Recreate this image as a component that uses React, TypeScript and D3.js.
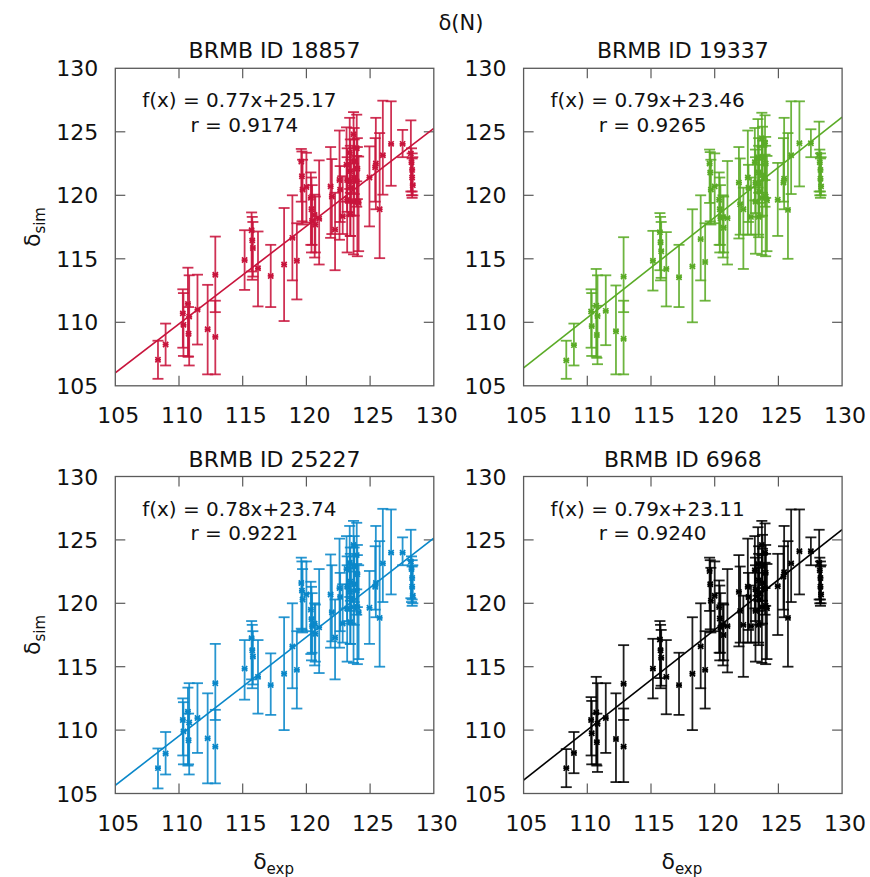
import React from 'react';
import * as d3 from 'd3';

type P = [number, number, number, number]; // [exp, sim, simLow, simHigh]

const xTicks = [105, 110, 115, 120, 125, 130];
const yTicks = [105, 110, 115, 120, 125, 130];
const titles = ['BRMB ID 18857', 'BRMB ID 19337', 'BRMB ID 25227', 'BRMB ID 6968'];
const fitSlope = [0.77, 0.79, 0.78, 0.79];
const fitIntercept = [25.17, 23.46, 23.74, 23.11];
const fitR = ['0.9174', '0.9265', '0.9221', '0.9240'];
const colors = ['#c8143c', '#5aab26', '#0a87c9', '#000000'];

const data18857: P[] = [
  [108.35, 107.05, 105.55, 108.55], [108.95, 108.25, 106.6, 109.9], [110.3, 110.7, 108.0, 112.6],
  [110.35, 109.8, 107.35, 112.3], [110.7, 111.45, 107.3, 114.3], [110.8, 110.45, 106.6, 113.7],
  [110.75, 109.1, 107.3, 111.2], [111.45, 111.0, 108.25, 113.75], [112.25, 109.45, 105.9, 112.95],
  [112.85, 113.75, 110.8, 116.75], [112.85, 108.85, 105.9, 111.7], [115.15, 114.9, 112.55, 117.25],
  [115.7, 117.25, 114.0, 118.65], [115.75, 116.45, 113.35, 118.3], [115.8, 115.85, 113.6, 117.9],
  [116.2, 114.25, 111.25, 117.15], [117.2, 113.65, 111.2, 116.1], [118.25, 114.55, 110.1, 119.0],
  [118.9, 116.65, 113.3, 120.0], [119.25, 114.85, 111.8, 117.8], [119.6, 122.65, 119.5, 123.65],
  [119.65, 121.5, 117.95, 123.45], [119.7, 120.45, 117.7, 122.8], [120.0, 120.65, 117.85, 123.35],
  [120.35, 119.8, 116.1, 121.8], [120.4, 118.9, 115.5, 121.4], [120.45, 118.0, 116.1, 120.8],
  [120.65, 118.45, 115.1, 120.05], [120.7, 117.7, 115.5, 119.9], [121.0, 118.15, 114.55, 122.75],
  [121.9, 120.7, 116.65, 123.8], [122.0, 119.9, 116.95, 122.85], [122.25, 117.3, 114.1, 120.2],
  [122.6, 121.2, 116.5, 125.1], [122.65, 120.45, 117.9, 122.3], [122.85, 118.35, 116.95, 121.5],
  [123.15, 122.4, 119.5, 125.35], [123.2, 121.2, 118.7, 123.7], [123.2, 119.65, 115.5, 123.0],
  [123.4, 123.35, 120.5, 126.1], [123.45, 121.9, 119.4, 124.4], [123.45, 121.1, 116.8, 123.9],
  [123.5, 120.6, 118.4, 122.8], [123.45, 118.5, 116.8, 120.2], [123.7, 124.8, 122.5, 126.55],
  [123.75, 122.7, 120.1, 125.3], [123.75, 121.4, 118.4, 124.4], [123.7, 119.5, 115.35, 123.7],
  [123.95, 123.7, 121.1, 126.35], [124.0, 122.1, 119.7, 124.5], [123.95, 121.1, 119.1, 123.1],
  [124.0, 119.5, 115.2, 123.8], [124.1, 119.4, 115.6, 123.05], [124.95, 121.4, 117.55, 123.85],
  [125.45, 122.5, 118.9, 126.1], [125.4, 122.2, 119.5, 124.5], [125.75, 118.9, 115.05, 124.9],
  [126.0, 123.15, 120.05, 127.45], [126.65, 124.05, 120.75, 127.4], [127.55, 124.05, 123.0, 125.15],
  [128.2, 123.3, 120.3, 125.9], [128.25, 122.6, 120.0, 123.7], [128.3, 122.0, 119.8, 123.3],
  [128.3, 121.4, 120.3, 122.9], [128.35, 120.8, 120.0, 123.0],
];

const data19337: P[] = [
  [108.35, 107.0, 105.55, 108.55], [108.95, 108.2, 106.6, 109.9], [110.3, 110.85, 108.0, 112.6],
  [110.35, 109.7, 107.35, 112.3], [110.7, 111.3, 107.3, 114.2], [110.8, 110.5, 106.7, 113.7],
  [110.75, 109.0, 107.2, 111.3], [111.45, 110.9, 108.2, 113.7], [112.25, 109.3, 105.9, 112.9],
  [112.85, 113.6, 110.8, 116.7], [112.85, 108.7, 105.9, 111.7], [115.15, 114.85, 112.5, 117.2],
  [115.7, 117.1, 114.1, 118.6], [115.75, 116.3, 113.3, 118.3], [115.8, 115.6, 113.5, 117.9],
  [116.2, 114.2, 111.25, 117.1], [117.2, 113.55, 111.2, 116.1], [118.25, 114.4, 110.0, 118.9],
  [118.9, 116.55, 113.3, 120.0], [119.25, 114.75, 111.7, 117.8], [119.6, 122.5, 119.4, 123.6],
  [119.65, 121.8, 117.95, 123.4], [119.7, 120.45, 117.7, 122.8], [120.0, 120.7, 117.8, 123.3],
  [120.35, 119.65, 116.1, 121.8], [120.4, 118.9, 115.5, 121.4], [120.45, 118.2, 116.1, 120.8],
  [120.65, 118.3, 115.1, 120.0], [120.7, 117.45, 115.5, 119.9], [121.0, 118.2, 114.55, 122.7],
  [121.9, 121.0, 116.6, 123.8], [122.0, 119.3, 116.9, 122.9], [122.25, 118.9, 114.2, 120.6],
  [122.6, 121.4, 116.9, 125.1], [122.65, 120.6, 117.9, 122.4], [122.85, 118.3, 116.9, 121.4],
  [123.15, 122.6, 119.6, 125.3], [123.2, 121.0, 118.6, 123.6], [123.2, 119.5, 115.4, 123.0],
  [123.4, 123.0, 120.6, 126.0], [123.45, 121.8, 119.4, 124.5], [123.45, 120.9, 116.9, 123.9],
  [123.5, 120.3, 118.3, 122.8], [123.45, 118.3, 116.7, 120.2], [123.7, 124.5, 122.4, 126.5],
  [123.75, 123.0, 120.2, 125.4], [123.75, 121.6, 118.4, 124.3], [123.7, 119.8, 115.3, 123.8],
  [123.95, 124.1, 121.2, 126.3], [124.0, 122.5, 119.8, 124.6], [123.95, 121.3, 119.1, 123.2],
  [124.0, 119.9, 115.2, 123.9], [124.1, 119.6, 115.6, 123.1], [124.95, 119.65, 116.8, 122.55],
  [125.45, 121.3, 118.9, 126.1], [125.4, 121.0, 119.5, 124.5], [125.75, 118.85, 115.0, 124.9],
  [126.0, 123.15, 120.1, 127.4], [126.65, 124.1, 120.7, 127.4], [127.55, 124.1, 123.0, 125.2],
  [128.2, 123.2, 120.3, 125.8], [128.25, 122.6, 120.0, 123.6], [128.3, 122.0, 119.8, 123.3],
  [128.3, 121.3, 120.3, 122.9], [128.35, 120.7, 120.0, 123.0],
];

const data25227: P[] = [
  [108.35, 107.0, 105.4, 108.55], [108.95, 108.15, 106.5, 109.85], [110.3, 110.8, 108.0, 112.5],
  [110.35, 109.9, 107.3, 112.2], [110.7, 111.45, 107.2, 113.35], [110.8, 110.6, 106.5, 113.7],
  [110.75, 109.2, 107.3, 111.3], [111.45, 110.95, 108.2, 113.7], [112.25, 109.35, 105.8, 112.9],
  [112.85, 113.7, 110.8, 116.8], [112.85, 108.7, 105.8, 111.6], [115.15, 114.85, 112.4, 117.1],
  [115.7, 117.25, 114.0, 118.6], [115.75, 116.3, 113.3, 118.3], [115.8, 115.8, 113.6, 117.8],
  [116.2, 114.2, 111.3, 117.1], [117.2, 113.55, 111.2, 116.05], [118.25, 114.45, 110.0, 118.9],
  [118.9, 116.6, 113.3, 120.0], [119.25, 114.75, 111.7, 117.8], [119.6, 121.6, 118.0, 123.6],
  [119.65, 121.0, 117.9, 123.3], [119.7, 120.3, 117.7, 122.7], [120.0, 120.7, 117.8, 123.3],
  [120.35, 119.5, 116.0, 121.7], [120.4, 118.75, 115.5, 121.3], [120.45, 118.2, 116.1, 120.8],
  [120.65, 118.4, 115.1, 120.0], [120.7, 117.6, 115.4, 119.9], [121.0, 118.1, 114.5, 122.7],
  [121.9, 120.7, 116.5, 123.85], [122.0, 119.3, 117.0, 123.0], [122.25, 117.3, 114.0, 120.3],
  [122.6, 121.2, 116.5, 125.1], [122.65, 120.5, 117.8, 122.4], [122.85, 118.4, 116.9, 121.5],
  [123.15, 122.7, 119.6, 125.3], [123.2, 121.3, 118.6, 123.7], [123.2, 119.6, 115.4, 123.0],
  [123.4, 123.2, 120.5, 126.1], [123.45, 121.7, 119.4, 124.4], [123.45, 120.9, 116.8, 123.9],
  [123.5, 120.4, 118.4, 122.8], [123.45, 118.5, 116.8, 120.2], [123.7, 124.6, 122.5, 126.5],
  [123.75, 122.9, 120.1, 125.3], [123.75, 121.5, 118.3, 124.4], [123.7, 119.7, 115.3, 123.7],
  [123.95, 123.8, 121.1, 126.35], [124.0, 122.3, 119.7, 124.6], [123.95, 121.0, 119.1, 123.1],
  [124.0, 119.7, 115.2, 123.8], [124.1, 119.3, 115.6, 123.0], [124.95, 119.65, 116.8, 122.55],
  [125.45, 121.6, 118.9, 126.1], [125.4, 121.3, 119.5, 124.5], [125.75, 118.85, 115.0, 124.9],
  [126.0, 123.15, 120.1, 127.45], [126.65, 124.0, 120.7, 127.4], [127.55, 124.0, 123.0, 125.2],
  [128.2, 123.3, 120.4, 125.8], [128.25, 122.7, 120.1, 123.7], [128.3, 122.0, 119.8, 123.4],
  [128.3, 121.3, 120.3, 122.9], [128.35, 120.6, 120.0, 123.0],
];

const data6968: P[] = [
  [108.35, 107.0, 105.5, 108.5], [108.95, 108.2, 106.6, 109.85], [110.3, 110.8, 108.0, 112.6],
  [110.35, 109.75, 107.3, 112.3], [110.7, 111.4, 107.3, 114.2], [110.8, 110.5, 106.7, 113.7],
  [110.75, 109.05, 107.2, 111.3], [111.45, 110.95, 108.2, 113.7], [112.25, 109.3, 105.9, 112.9],
  [112.85, 113.65, 110.8, 116.7], [112.85, 108.7, 105.9, 111.7], [115.15, 114.85, 112.5, 117.2],
  [115.7, 117.15, 114.1, 118.6], [115.75, 116.3, 113.3, 118.3], [115.8, 115.7, 113.5, 117.9],
  [116.2, 114.2, 111.25, 117.1], [117.2, 113.55, 111.2, 116.1], [118.25, 114.45, 110.0, 118.9],
  [118.9, 116.6, 113.3, 120.0], [119.25, 114.75, 111.7, 117.8], [119.6, 122.55, 119.4, 123.6],
  [119.65, 121.5, 117.95, 123.4], [119.7, 120.2, 117.7, 122.8], [120.0, 120.6, 117.8, 123.3],
  [120.35, 119.7, 116.1, 121.8], [120.4, 118.8, 115.5, 121.4], [120.45, 118.1, 116.1, 120.8],
  [120.65, 118.3, 115.1, 120.0], [120.7, 117.5, 115.5, 119.9], [121.0, 118.2, 114.55, 122.7],
  [121.9, 120.9, 116.6, 123.8], [122.0, 119.4, 116.9, 122.9], [122.25, 118.3, 114.2, 120.6],
  [122.6, 121.3, 116.9, 125.1], [122.65, 120.5, 117.9, 122.4], [122.85, 118.2, 116.9, 121.4],
  [123.15, 122.6, 119.6, 125.3], [123.2, 121.1, 118.6, 123.6], [123.2, 119.4, 115.4, 123.0],
  [123.4, 123.1, 120.6, 126.0], [123.45, 121.8, 119.4, 124.5], [123.45, 120.8, 116.9, 123.9],
  [123.5, 120.3, 118.3, 122.8], [123.45, 118.3, 116.7, 120.2], [123.7, 124.6, 122.4, 126.5],
  [123.75, 123.0, 120.2, 125.4], [123.75, 121.6, 118.4, 124.3], [123.7, 119.7, 115.3, 123.8],
  [123.95, 124.0, 121.2, 126.3], [124.0, 122.4, 119.8, 124.6], [123.95, 121.2, 119.1, 123.2],
  [124.0, 119.8, 115.2, 123.9], [124.1, 119.6, 115.6, 123.1], [124.95, 121.35, 117.5, 123.9],
  [125.45, 122.45, 118.9, 126.1], [125.4, 122.1, 119.5, 124.5], [125.75, 118.85, 115.0, 124.9],
  [126.0, 123.15, 120.1, 127.4], [126.65, 124.1, 120.7, 127.4], [127.55, 124.1, 123.0, 125.2],
  [128.2, 123.2, 120.3, 125.8], [128.25, 122.6, 120.0, 123.6], [128.3, 122.0, 119.8, 123.3],
  [128.3, 121.3, 120.3, 122.9], [128.35, 120.7, 120.0, 123.0],
];

const panelData = [data18857, data19337, data25227, data6968];

const W = 870;
const H = 877;
const FONT = 'DejaVu Sans, sans-serif';
const frames = [
  { left: 115.3, top: 68.3, width: 318.5, height: 317.5 },
  { left: 523.6, top: 68.3, width: 318.5, height: 317.5 },
  { left: 115.3, top: 476.5, width: 318.5, height: 317.0 },
  { left: 523.6, top: 476.5, width: 318.5, height: 317.0 },
];

function Panel({ idx }: { idx: number }) {
  const f = frames[idx];
  const color = colors[idx];
  const data = panelData[idx];
  const x = d3.scaleLinear().domain([105, 130]).range([f.left, f.left + f.width]);
  const y = d3.scaleLinear().domain([105, 130]).range([f.top + f.height, f.top]);
  const line = d3.line<number>().x((v) => x(v)).y((v) => y(fitSlope[idx] * v + fitIntercept[idx]));
  const clipId = `clip${idx}`;
  const bottomRow = idx >= 2;
  const leftCol = idx % 2 === 0;
  const axisColor = '#5a5a5a';
  const tickLen = 10;
  return (
    <g>
      <defs>
        <clipPath id={clipId}>
          <rect x={f.left} y={f.top} width={f.width} height={f.height} />
        </clipPath>
      </defs>
      {xTicks.slice(1, -1).map((t) => (
        <g key={'xt' + t} stroke={axisColor} strokeWidth={1.2}>
          <line x1={x(t)} x2={x(t)} y1={f.top + f.height} y2={f.top + f.height - tickLen} />
          <line x1={x(t)} x2={x(t)} y1={f.top} y2={f.top + tickLen} />
        </g>
      ))}
      {yTicks.slice(1, -1).map((t) => (
        <g key={'yt' + t} stroke={axisColor} strokeWidth={1.2}>
          <line x1={f.left} x2={f.left + tickLen} y1={y(t)} y2={y(t)} />
          <line x1={f.left + f.width} x2={f.left + f.width - tickLen} y1={y(t)} y2={y(t)} />
        </g>
      ))}
      {xTicks.map((t) => (
        <text key={'xl' + t} x={x(t) + 3} y={f.top + f.height + 37} textAnchor="middle"
          fontSize={22} fontFamily={FONT} fill="#111">{t}</text>
      ))}
      {yTicks.map((t) => (
        <text key={'yl' + t} x={f.left - 17} y={y(t) + 8} textAnchor="end"
          fontSize={22} fontFamily={FONT} fill="#111">{t}</text>
      ))}
      <path d={line([105, 130]) || ''} stroke={color} strokeWidth={1.6} fill="none" clipPath={`url(#${clipId})`} />
      <g stroke={color} strokeWidth={1.8} strokeOpacity={0.88} fill="none">
        {data.map((d, i) => {
          const cx = x(d[0]);
          return (
            <g key={i}>
              <line x1={cx} x2={cx} y1={y(d[2])} y2={y(d[3])} />
              <line x1={cx - 5.5} x2={cx + 5.5} y1={y(d[2])} y2={y(d[2])} />
              <line x1={cx - 5.5} x2={cx + 5.5} y1={y(d[3])} y2={y(d[3])} />
            </g>
          );
        })}
      </g>
      <g stroke={color} strokeWidth={1.7} fill="none">
        {data.map((d, i) => (
          <path key={i} transform={`translate(${x(d[0])},${y(d[1])})`}
            d="M-2.6,-2.6L2.6,2.6M-2.6,2.6L2.6,-2.6M-3,0L3,0" />
        ))}
      </g>
      <rect x={f.left} y={f.top} width={f.width} height={f.height} fill="none" stroke={axisColor} strokeWidth={1.3} />
      <text x={f.left + 124} y={f.top + 39} textAnchor="middle" fontSize={20} fontFamily={FONT} fill="#111">
        {`f(x) = ${fitSlope[idx].toFixed(2)}x+${fitIntercept[idx].toFixed(2)}`}
      </text>
      <text x={f.left + 129} y={f.top + 63.5} textAnchor="middle" fontSize={20} fontFamily={FONT} fill="#111">
        {`r = ${fitR[idx]}`}
      </text>
      <text x={f.left + f.width / 2} y={f.top - 10} textAnchor="middle" fontSize={22} fontFamily={FONT} fill="#111">
        {titles[idx]}
      </text>
      {leftCol && (
        <text transform={`translate(40,${f.top + f.height / 2}) rotate(-90)`} textAnchor="middle"
          fontSize={22} fontFamily={FONT} fill="#111">
          δ<tspan fontSize={15} dy={5}>sim</tspan>
        </text>
      )}
      {bottomRow && (
        <text x={f.left + f.width / 2 - 1} y={869} textAnchor="middle" fontSize={22} fontFamily={FONT} fill="#111">
          δ<tspan fontSize={15} dy={5}>exp</tspan>
        </text>
      )}
    </g>
  );
}

export default function App() {
  return (
    <svg width={W} height={H} style={{ position: 'absolute', left: 0, top: 0, background: '#fff' }}>
      <rect x={0} y={0} width={W} height={H} fill="#fff" />
      <text x={461} y={30} textAnchor="middle" fontSize={21} fontFamily={FONT} fill="#111">δ(N)</text>
      {[0, 1, 2, 3].map((i) => (
        <Panel key={i} idx={i} />
      ))}
    </svg>
  );
}
